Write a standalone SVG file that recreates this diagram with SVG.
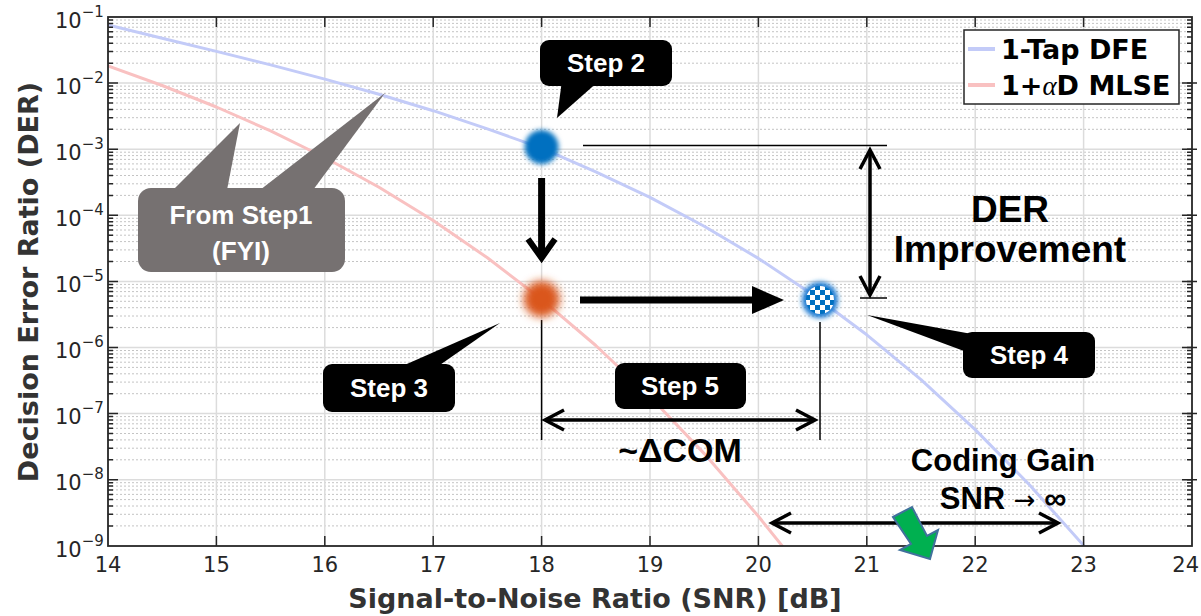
<svg xmlns="http://www.w3.org/2000/svg" xmlns:xlink="http://www.w3.org/1999/xlink" width="1201" height="616" viewBox="0 0 1201 616">
<style>
.tk{font-family:"DejaVu Sans",sans-serif;font-size:21px;fill:#262626}
.sup{font-size:15px}
.ttl{font-family:"DejaVu Sans",sans-serif;font-size:27px;font-weight:bold;fill:#333}
.leg{font-family:"DejaVu Sans",sans-serif;font-size:27px;font-weight:bold;fill:#000}
.step rect{fill:#000}
.step path{fill:#000}
.st{font-family:"Liberation Sans",Arial,sans-serif;font-size:26px;font-weight:bold;fill:#fff;text-anchor:middle}
.big{font-family:"Liberation Sans",Arial,sans-serif;font-weight:bold;fill:#000;text-anchor:middle}
.thin{stroke:#000;stroke-width:1.5;fill:none}
.dbl{stroke:#000;stroke-width:3.5;fill:none;marker-start:url(#chev);marker-end:url(#chev)}
</style>
<defs>
<clipPath id="plotclip"><rect x="108" y="17" width="1084" height="529"/></clipPath>
<marker id="chev" markerUnits="userSpaceOnUse" markerWidth="26" markerHeight="26" refX="21" refY="12" orient="auto-start-reverse" viewBox="0 0 26 26">
<path d="M2,2 L21,12 L2,22" fill="none" stroke="#000" stroke-width="3.5"/>
</marker>
<filter id="soft" x="-50%" y="-50%" width="200%" height="200%"><feGaussianBlur stdDeviation="2.5"/></filter>
<filter id="softer" x="-60%" y="-60%" width="220%" height="220%"><feGaussianBlur stdDeviation="4"/></filter>
<pattern id="chk" width="10" height="10" patternUnits="userSpaceOnUse" x="815" y="295">
<rect width="10" height="10" fill="#fff"/><rect width="5" height="5" fill="#0070C0"/><rect x="5" y="5" width="5" height="5" fill="#0070C0"/>
</pattern>
<path id="mt" d="M108 20h5M108 23.4h5M108 27.2h5M108 31.7h5M108 36.9h5M108 43.3h5M108 51.6h5M108 63.2h5M108 86.1h5M108 89.5h5M108 93.3h5M108 97.8h5M108 103h5M108 109.4h5M108 117.7h5M108 129.3h5M108 152.2h5M108 155.6h5M108 159.4h5M108 163.9h5M108 169.1h5M108 175.5h5M108 183.8h5M108 195.4h5M108 218.3h5M108 221.7h5M108 225.5h5M108 230h5M108 235.2h5M108 241.6h5M108 249.9h5M108 261.5h5M108 284.4h5M108 287.8h5M108 291.6h5M108 296.1h5M108 301.3h5M108 307.7h5M108 316h5M108 327.6h5M108 350.5h5M108 353.9h5M108 357.7h5M108 362.2h5M108 367.4h5M108 373.8h5M108 382.1h5M108 393.7h5M108 416.6h5M108 420h5M108 423.8h5M108 428.3h5M108 433.5h5M108 439.9h5M108 448.2h5M108 459.8h5M108 482.7h5M108 486.1h5M108 489.9h5M108 494.4h5M108 499.6h5M108 506h5M108 514.3h5M108 525.9h5M108 83.1h10M108 149.2h10M108 215.3h10M108 281.4h10M108 347.5h10M108 413.6h10M108 479.7h10"/>
</defs>
<rect width="1201" height="616" fill="#fff"/>

<g id="grid">
<path fill="none" stroke="#c4c4c4" stroke-width="1" stroke-dasharray="2,2" d="M108 20H1192M108 23.4H1192M108 27.2H1192M108 31.7H1192M108 36.9H1192M108 43.3H1192M108 51.6H1192M108 63.2H1192M108 86.1H1192M108 89.5H1192M108 93.3H1192M108 97.8H1192M108 103H1192M108 109.4H1192M108 117.7H1192M108 129.3H1192M108 152.2H1192M108 155.6H1192M108 159.4H1192M108 163.9H1192M108 169.1H1192M108 175.5H1192M108 183.8H1192M108 195.4H1192M108 218.3H1192M108 221.7H1192M108 225.5H1192M108 230H1192M108 235.2H1192M108 241.6H1192M108 249.9H1192M108 261.5H1192M108 284.4H1192M108 287.8H1192M108 291.6H1192M108 296.1H1192M108 301.3H1192M108 307.7H1192M108 316H1192M108 327.6H1192M108 350.5H1192M108 353.9H1192M108 357.7H1192M108 362.2H1192M108 367.4H1192M108 373.8H1192M108 382.1H1192M108 393.7H1192M108 416.6H1192M108 420H1192M108 423.8H1192M108 428.3H1192M108 433.5H1192M108 439.9H1192M108 448.2H1192M108 459.8H1192M108 482.7H1192M108 486.1H1192M108 489.9H1192M108 494.4H1192M108 499.6H1192M108 506H1192M108 514.3H1192M108 525.9H1192"/>
<path fill="none" stroke="#dcdcdc" stroke-width="1.5" d="M108 83.1H1192M108 149.2H1192M108 215.3H1192M108 281.4H1192M108 347.5H1192M108 413.6H1192M108 479.7H1192M216.4 17V546M324.8 17V546M433.2 17V546M541.6 17V546M650 17V546M758.4 17V546M866.8 17V546M975.2 17V546M1083.6 17V546"/>
</g>

<g id="curves" clip-path="url(#plotclip)" fill="none" stroke-width="3" stroke-linejoin="round">
<polyline id="dfe" stroke="#c3cbf8" points="108,24.9 162.2,38.2 216.4,51.4 270.6,64.9 324.8,79.1 379,94.2 433.2,110.7 487.4,128.9 541.6,148.2 595.8,171.9 650,197.4 704.2,226.2 758.4,258.4 812.6,294.5 866.8,334.8 921,379.7 975.2,429.6 1029.4,484.8 1083.6,545.4 1090,553"/>
<polyline id="mlse" stroke="#f9c1c1" points="108,65.9 162.2,85.5 216.4,107 270.6,130.9 324.8,157.5 379,187.3 433.2,220.5 487.4,257.8 541.6,299.3 595.8,345.5 650,396.8 704.2,453.6 758.4,516.3 785.5,550"/>
</g>

<g id="axes" stroke="#262626" fill="none">
<rect x="108" y="17" width="1084" height="529" stroke-width="1.8"/>
<use href="#mt" stroke-width="1.5"/>
<use href="#mt" x="1079" stroke-width="1.5"/>
<path stroke-width="1.5" d="M216.4 546v-10M324.8 546v-10M433.2 546v-10M541.6 546v-10M650 546v-10M758.4 546v-10M866.8 546v-10M975.2 546v-10M1083.6 546v-10M216.4 17v10M324.8 17v10M433.2 17v10M541.6 17v10M650 17v10M758.4 17v10M866.8 17v10M975.2 17v10M1083.6 17v10M1182 83.1h10M1182 149.2h10M1182 215.3h10M1182 281.4h10M1182 347.5h10M1182 413.6h10M1182 479.7h10"/>
</g>

<g id="yticklabels" class="tk">
<text x="55" y="28" class="tk">10<tspan class="sup" dy="-11">−1</tspan></text>
<text x="55" y="94" class="tk">10<tspan class="sup" dy="-11">−2</tspan></text>
<text x="55" y="160" class="tk">10<tspan class="sup" dy="-11">−3</tspan></text>
<text x="55" y="226" class="tk">10<tspan class="sup" dy="-11">−4</tspan></text>
<text x="55" y="292" class="tk">10<tspan class="sup" dy="-11">−5</tspan></text>
<text x="55" y="358" class="tk">10<tspan class="sup" dy="-11">−6</tspan></text>
<text x="55" y="424" class="tk">10<tspan class="sup" dy="-11">−7</tspan></text>
<text x="55" y="490" class="tk">10<tspan class="sup" dy="-11">−8</tspan></text>
<text x="55" y="557" class="tk">10<tspan class="sup" dy="-11">−9</tspan></text>
</g>
<g id="xticklabels" class="tk" text-anchor="middle">
<text x="108" y="572">14</text><text x="216.4" y="572">15</text><text x="324.8" y="572">16</text><text x="433.2" y="572">17</text><text x="541.6" y="572">18</text><text x="650" y="572">19</text><text x="758.4" y="572">20</text><text x="866.8" y="572">21</text><text x="975.2" y="572">22</text><text x="1083.6" y="572">23</text><text x="1199" y="572" text-anchor="end">24</text>
</g>
<text id="xtitle" class="ttl" x="595" y="608" text-anchor="middle">Signal-to-Noise Ratio (SNR) [dB]</text>
<text id="ytitle" class="ttl" transform="translate(38,282) rotate(-90)" text-anchor="middle">Decision Error Ratio (DER)</text>

<g id="legend">
<rect x="964" y="30" width="215" height="74" fill="#fff" stroke="#262626" stroke-width="1.5"/>
<line x1="968" y1="49" x2="995" y2="49" stroke="#c3cbf8" stroke-width="4"/>
<line x1="968" y1="85" x2="995" y2="85" stroke="#f9c1c1" stroke-width="4"/>
<text class="leg" x="1001" y="59">1-Tap DFE</text>
<text class="leg" x="1001" y="95">1+<tspan font-family="Liberation Serif,serif" font-style="italic" font-weight="normal">α</tspan>D MLSE</text>
</g>

<g id="connectors">
<line class="thin" x1="583" y1="145.5" x2="887" y2="145.5"/>
<line class="thin" x1="860" y1="298" x2="887" y2="298"/>
<line class="thin" x1="541.6" y1="320" x2="541.6" y2="440"/>
<line class="thin" x1="820" y1="322" x2="820" y2="440"/>
<path class="dbl" d="M870 150V295"/>
<path class="dbl" d="M545 420H815"/>
<path class="dbl" d="M772 523H1058"/>
<path d="M541.6 178V256" stroke="#000" stroke-width="7" fill="none"/>
<path d="M528 239L541.6 258L555 239" stroke="#000" stroke-width="6" fill="none"/>
<path d="M580 300H758" stroke="#000" stroke-width="7" fill="none"/>
<polygon points="752,286 784,300 752,314" fill="#000"/>
</g>

<g id="dot-step2">
<circle cx="541.6" cy="147" r="17" fill="#0070C0" filter="url(#soft)"/>
</g>
<g id="dot-step3">
<circle cx="541.6" cy="299" r="18" fill="#DA561D" filter="url(#softer)"/>
</g>
<g id="dot-step4">
<circle cx="820" cy="300" r="18" fill="#1c7ad2" filter="url(#soft)"/>
<circle cx="820" cy="300" r="14" fill="url(#chk)"/>
</g>

<g id="callout-step1">
<polygon points="173,190 240,123 227,190" fill="#767171"/>
<polygon points="260,190 385,93 313,190" fill="#767171"/>
<rect x="138" y="188" width="207" height="84" rx="13" fill="#767171"/>
<text class="st" x="241" y="224">From Step1</text>
<text class="st" x="241" y="260">(FYI)</text>
</g>
<g id="callout-step2" class="step">
<path d="M557 118L562 80L600 80Z"/>
<rect x="540" y="40" width="132" height="46" rx="9"/>
<text class="st" x="606" y="72">Step 2</text>
</g>
<g id="callout-step3" class="step">
<path d="M500 323L400 367L437 367Z"/>
<rect x="323" y="364" width="132" height="48" rx="9"/>
<text class="st" x="389" y="397">Step 3</text>
</g>
<g id="callout-step4" class="step">
<path d="M867 315L972 334L972 354Z"/>
<rect x="963" y="332" width="132" height="46" rx="9"/>
<text class="st" x="1029" y="364">Step 4</text>
</g>
<g id="callout-step5" class="step">
<rect x="615" y="363" width="131" height="46" rx="9"/>
<text class="st" x="680" y="395">Step 5</text>
</g>

<g id="labels">
<text class="big" x="680" y="462" font-size="34">~ΔCOM</text>
<text class="big" x="1010" y="222" font-size="37">DER</text>
<text class="big" x="1010" y="262" font-size="37">Improvement</text>
<text class="big" x="1003" y="471" font-size="31">Coding Gain</text>
<text class="big" x="1003" y="509" font-size="31">SNR <tspan font-family="DejaVu Sans,sans-serif" font-weight="normal" font-size="26">→</tspan> ∞</text>
</g>

<g id="green-arrow">
<polygon points="893,517 912,507 927,536 938,530 930,559 900,550 911,544" fill="#00B050" stroke="#41719C" stroke-width="2" stroke-linejoin="miter"/>
</g>
</svg>
